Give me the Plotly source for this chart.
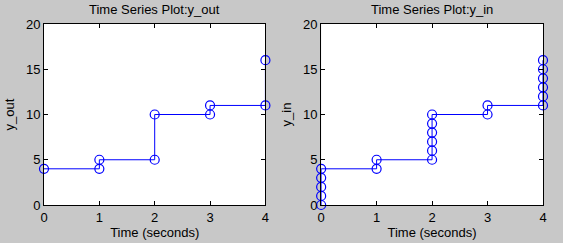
import plotly.graph_objects as go

# Data
t_out = [0, 1, 1, 2, 2, 3, 3, 4, 4]
y_out = [4, 4, 5, 5, 10, 10, 11, 11, 16]

t_in = [0, 0, 0, 0, 0, 1, 1, 2, 2, 2, 2, 2, 2, 3, 3, 4, 4, 4, 4, 4, 4]
y_in = [0, 1, 2, 3, 4, 4, 5, 5, 6, 7, 8, 9, 10, 10, 11, 11, 12, 13, 14, 15, 16]

titles = ["Time Series Plot:y_out", "Time Series Plot:y_in"]
ylabels = ["y_out", "y_in"]
x_ticks = [0, 1, 2, 3, 4]
y_ticks = [0, 5, 10, 15, 20]

BLUE = "#0000ff"
FONT = "Liberation Sans, Arial, sans-serif"
FS = 13

fig = go.Figure()
fig.add_trace(go.Scatter(x=t_out, y=y_out, mode="lines+markers", xaxis="x", yaxis="y",
                         line=dict(color=BLUE, width=1),
                         marker=dict(symbol="circle-open", size=9, color=BLUE, line=dict(width=1.2)),
                         cliponaxis=False, showlegend=False))
fig.add_trace(go.Scatter(x=t_in, y=y_in, mode="lines+markers", xaxis="x2", yaxis="y2",
                         line=dict(color=BLUE, width=1),
                         marker=dict(symbol="circle-open", size=9, color=BLUE, line=dict(width=1.2)),
                         cliponaxis=False, showlegend=False))

axis_common = dict(showline=True, linecolor="black", linewidth=1, mirror="ticks",
                   ticks="inside", ticklen=4, tickcolor="black", showgrid=False, zeroline=False,
                   automargin=False,
                   tickfont=dict(family=FONT, size=FS, color="black"))

d1 = [0, 0.4437]
d2 = [0.5554, 1.0]
fig.update_layout(
    width=563, height=243,
    margin=dict(l=44, r=20, t=24, b=38),
    paper_bgcolor="#c8c8c8", plot_bgcolor="white",
    font=dict(family=FONT, size=FS, color="black"),
    xaxis=dict(domain=d1, range=[0, 4], tickvals=x_ticks, anchor="y",
               title=dict(text="Time (seconds)", standoff=3, font=dict(size=FS)), **axis_common),
    yaxis=dict(domain=[0, 1], range=[0, 20], tickvals=y_ticks, anchor="x",
               title=dict(text=ylabels[0], standoff=8, font=dict(size=FS)), **axis_common),
    xaxis2=dict(domain=d2, range=[0, 4], tickvals=x_ticks, anchor="y2",
                title=dict(text="Time (seconds)", standoff=3, font=dict(size=FS)), **axis_common),
    yaxis2=dict(domain=[0, 1], range=[0, 20], tickvals=y_ticks, anchor="x2",
                title=dict(text=ylabels[1], standoff=8, font=dict(size=FS)), **axis_common),
    annotations=[
        dict(text=titles[0], x=sum(d1) / 2, y=1, xref="paper", yref="paper",
             xanchor="center", yanchor="bottom", yshift=5, showarrow=False,
             font=dict(family=FONT, size=FS, color="black")),
        dict(text=titles[1], x=sum(d2) / 2, y=1, xref="paper", yref="paper",
             xanchor="center", yanchor="bottom", yshift=5, showarrow=False,
             font=dict(family=FONT, size=FS, color="black")),
    ],
)

fig.write_html("out.html")
